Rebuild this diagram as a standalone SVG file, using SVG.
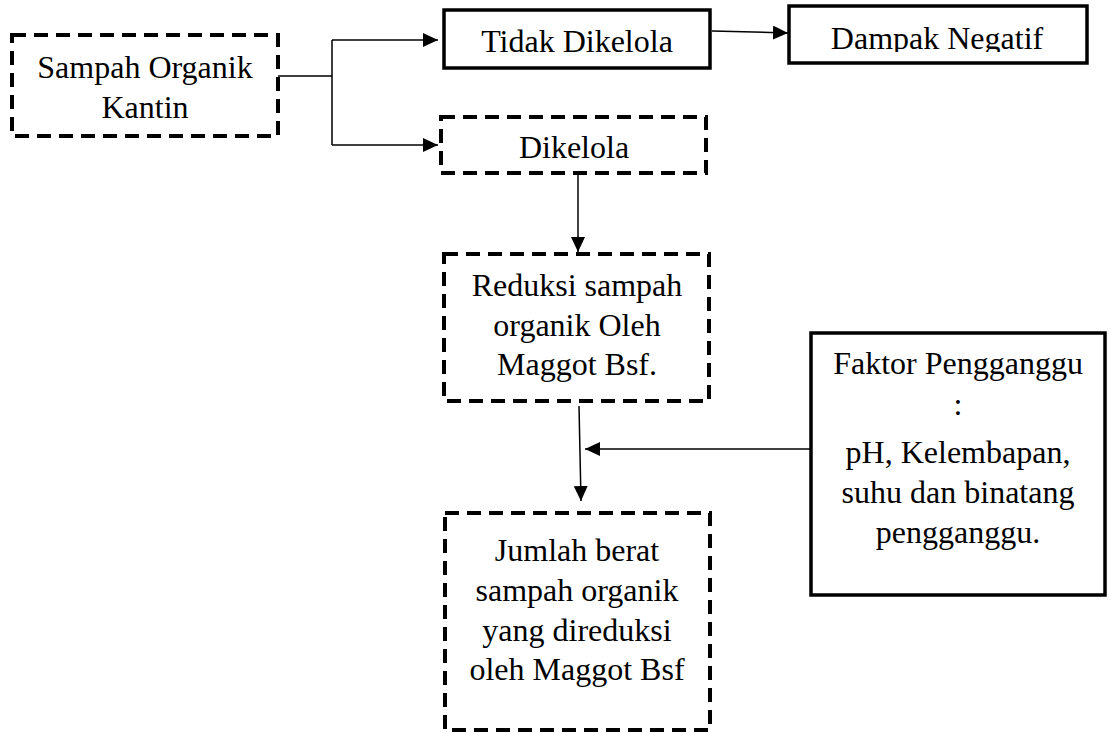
<svg xmlns="http://www.w3.org/2000/svg" width="1111" height="733" viewBox="0 0 1111 733">
<style>
.box{fill:#fff;stroke:#000;stroke-width:3.5}
.dash{fill:#fff;stroke:#000;stroke-width:4;stroke-dasharray:14 8}
.lbl{font-family:"Liberation Serif","Times New Roman",serif;font-size:32px;fill:#000;text-anchor:middle}
.con{fill:none;stroke:#000;stroke-width:1.5}
</style>
<defs>
<marker id="ah" markerWidth="16" markerHeight="14" refX="15" refY="7" orient="auto" markerUnits="userSpaceOnUse">
<path d="M0,0 L15,7 L0,14 Z" fill="#000"/>
</marker>
<clipPath id="clipD"><rect x="788" y="0" width="300" height="52"/></clipPath>
</defs>
<rect width="1111" height="733" fill="#fff"/>
<g id="connectors">
<path class="con" d="M278,76 H332 M332,40 V145"/>
<path class="con" d="M332,40 H438" marker-end="url(#ah)"/>
<path class="con" d="M332,145 H438" marker-end="url(#ah)"/>
<path class="con" d="M712,31 L788,33" marker-end="url(#ah)"/>
<path class="con" d="M578,174 V252" marker-end="url(#ah)"/>
<path class="con" d="M579,406 L581,501" marker-end="url(#ah)"/>
<path class="con" d="M810,449 H585" marker-end="url(#ah)"/>
</g>
<g id="sampah">
<rect class="dash" x="12" y="35" width="266" height="101"/>
<text class="lbl" x="145" y="78">Sampah Organik</text>
<text class="lbl" x="145" y="118">Kantin</text>
</g>
<g id="tidak">
<rect class="box" x="444" y="10" width="266" height="58"/>
<text class="lbl" x="577" y="52">Tidak Dikelola</text>
</g>
<g id="dampak">
<rect class="box" x="789" y="6" width="298" height="57"/>
<text class="lbl" x="937" y="49" clip-path="url(#clipD)">Dampak Negatif</text>
</g>
<g id="dikelola">
<rect class="dash" x="441" y="117" width="265" height="56"/>
<text class="lbl" x="574" y="158">Dikelola</text>
</g>
<g id="reduksi">
<rect class="dash" x="444" y="254" width="265" height="147"/>
<text class="lbl" x="577" y="296">Reduksi sampah</text>
<text class="lbl" x="577" y="336">organik Oleh</text>
<text class="lbl" x="577" y="375">Maggot Bsf.</text>
</g>
<g id="faktor">
<rect class="box" x="811" y="333" width="294" height="262"/>
<text class="lbl" x="958" y="374">Faktor Pengganggu</text>
<text class="lbl" x="958" y="415">:</text>
<text class="lbl" x="958" y="463">pH, Kelembapan,</text>
<text class="lbl" x="958" y="503">suhu dan binatang</text>
<text class="lbl" x="958" y="543">pengganggu.</text>
</g>
<g id="jumlah">
<rect class="dash" x="445" y="513" width="265" height="217"/>
<text class="lbl" x="577" y="561">Jumlah berat</text>
<text class="lbl" x="577" y="601">sampah organik</text>
<text class="lbl" x="577" y="641">yang direduksi</text>
<text class="lbl" x="577" y="680">oleh Maggot Bsf</text>
</g>
</svg>
